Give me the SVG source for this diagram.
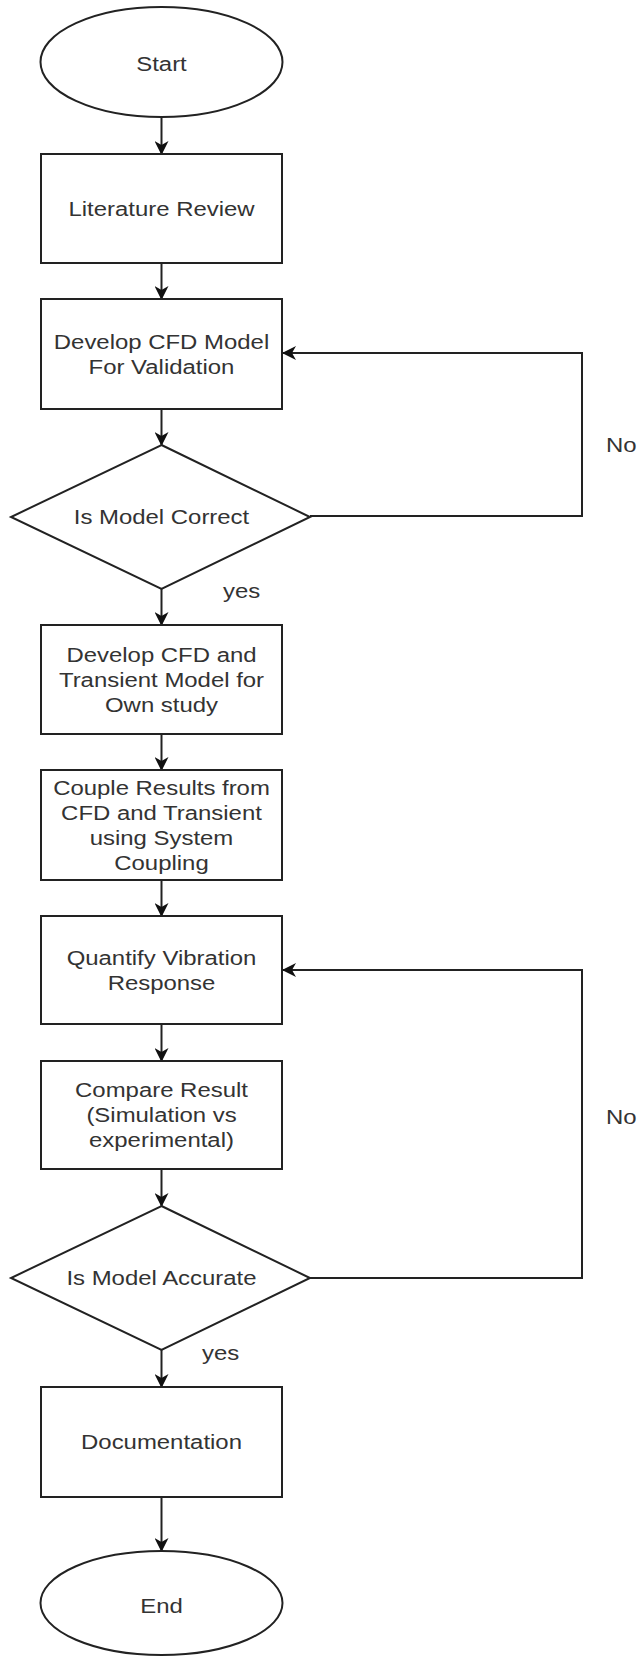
<svg xmlns="http://www.w3.org/2000/svg" width="641" height="1656" viewBox="0 0 641 1656">
<style>
.s{fill:#fff;stroke:#222;stroke-width:2}
.c{fill:none;stroke:#222;stroke-width:2}
text{font-family:"Liberation Sans",Arial,sans-serif;font-size:21px;fill:#333}
.m{text-anchor:middle}
</style>
<defs>
<marker id="arr" viewBox="0 0 14 14" refX="13" refY="7" markerWidth="14" markerHeight="14" orient="auto" markerUnits="userSpaceOnUse">
<path d="M0,0 L14,7 L0,14 L4,7 Z" fill="#111"/>
</marker>
</defs>
<rect width="641" height="1656" fill="#fff"/>
<g id="connectors">
<line class="c" x1="161.5" y1="117" x2="161.5" y2="154" marker-end="url(#arr)"/>
<line class="c" x1="161.5" y1="263" x2="161.5" y2="299" marker-end="url(#arr)"/>
<line class="c" x1="161.5" y1="409" x2="161.5" y2="445" marker-end="url(#arr)"/>
<line class="c" x1="161.5" y1="589" x2="161.5" y2="625" marker-end="url(#arr)"/>
<line class="c" x1="161.5" y1="734" x2="161.5" y2="770" marker-end="url(#arr)"/>
<line class="c" x1="161.5" y1="880" x2="161.5" y2="916" marker-end="url(#arr)"/>
<line class="c" x1="161.5" y1="1024" x2="161.5" y2="1061" marker-end="url(#arr)"/>
<line class="c" x1="161.5" y1="1169" x2="161.5" y2="1206" marker-end="url(#arr)"/>
<line class="c" x1="161.5" y1="1350" x2="161.5" y2="1387" marker-end="url(#arr)"/>
<line class="c" x1="161.5" y1="1497" x2="161.5" y2="1551" marker-end="url(#arr)"/>
<path class="c" d="M310,516 H582 V353 H283" marker-end="url(#arr)"/>
<path class="c" d="M310,1278 H582 V970 H283" marker-end="url(#arr)"/>
<g transform="translate(223,0) scale(1.14,1)"><text x="0" y="598">yes</text></g>
<g transform="translate(202,0) scale(1.14,1)"><text x="0" y="1360">yes</text></g>
<g transform="translate(606,0) scale(1.14,1)"><text x="0" y="452">No</text></g>
<g transform="translate(606,0) scale(1.14,1)"><text x="0" y="1124">No</text></g>
</g>
<g id="start">
<ellipse class="s" cx="161.5" cy="62" rx="121" ry="55"/>
<g transform="translate(161.5,0) scale(1.14,1)"><text class="m" x="0" y="71">Start</text></g>
</g>
<g id="literature">
<rect class="s" x="41" y="154" width="241" height="109"/>
<g transform="translate(161.5,0) scale(1.14,1)"><text class="m" x="0" y="216">Literature Review</text></g>
</g>
<g id="develop-cfd">
<rect class="s" x="41" y="299" width="241" height="110"/>
<g transform="translate(161.5,0) scale(1.14,1)"><text class="m" x="0" y="349">Develop CFD Model</text><text class="m" x="0" y="374">For Validation</text></g>
</g>
<g id="is-correct">
<polygon class="s" points="161.5,445 310,517 161.5,589 11,517"/>
<g transform="translate(161.5,0) scale(1.14,1)"><text class="m" x="0" y="524">Is Model Correct</text></g>
</g>
<g id="develop-transient">
<rect class="s" x="41" y="625" width="241" height="109"/>
<g transform="translate(161.5,0) scale(1.14,1)"><text class="m" x="0" y="662">Develop CFD and</text><text class="m" x="0" y="687">Transient Model for</text><text class="m" x="0" y="712">Own study</text></g>
</g>
<g id="couple">
<rect class="s" x="41" y="770" width="241" height="110"/>
<g transform="translate(161.5,0) scale(1.14,1)"><text class="m" x="0" y="795">Couple Results from</text><text class="m" x="0" y="820">CFD and Transient</text><text class="m" x="0" y="845">using System</text><text class="m" x="0" y="870">Coupling</text></g>
</g>
<g id="quantify">
<rect class="s" x="41" y="916" width="241" height="108"/>
<g transform="translate(161.5,0) scale(1.14,1)"><text class="m" x="0" y="965">Quantify Vibration</text><text class="m" x="0" y="990">Response</text></g>
</g>
<g id="compare">
<rect class="s" x="41" y="1061" width="241" height="108"/>
<g transform="translate(161.5,0) scale(1.14,1)"><text class="m" x="0" y="1097">Compare Result</text><text class="m" x="0" y="1122">(Simulation vs</text><text class="m" x="0" y="1147">experimental)</text></g>
</g>
<g id="is-accurate">
<polygon class="s" points="161.5,1206 310,1278 161.5,1350 11,1278"/>
<g transform="translate(161.5,0) scale(1.14,1)"><text class="m" x="0" y="1285">Is Model Accurate</text></g>
</g>
<g id="documentation">
<rect class="s" x="41" y="1387" width="241" height="110"/>
<g transform="translate(161.5,0) scale(1.14,1)"><text class="m" x="0" y="1449">Documentation</text></g>
</g>
<g id="end">
<ellipse class="s" cx="161.5" cy="1603" rx="121" ry="52"/>
<g transform="translate(161.5,0) scale(1.14,1)"><text class="m" x="0" y="1613">End</text></g>
</g>
</svg>
